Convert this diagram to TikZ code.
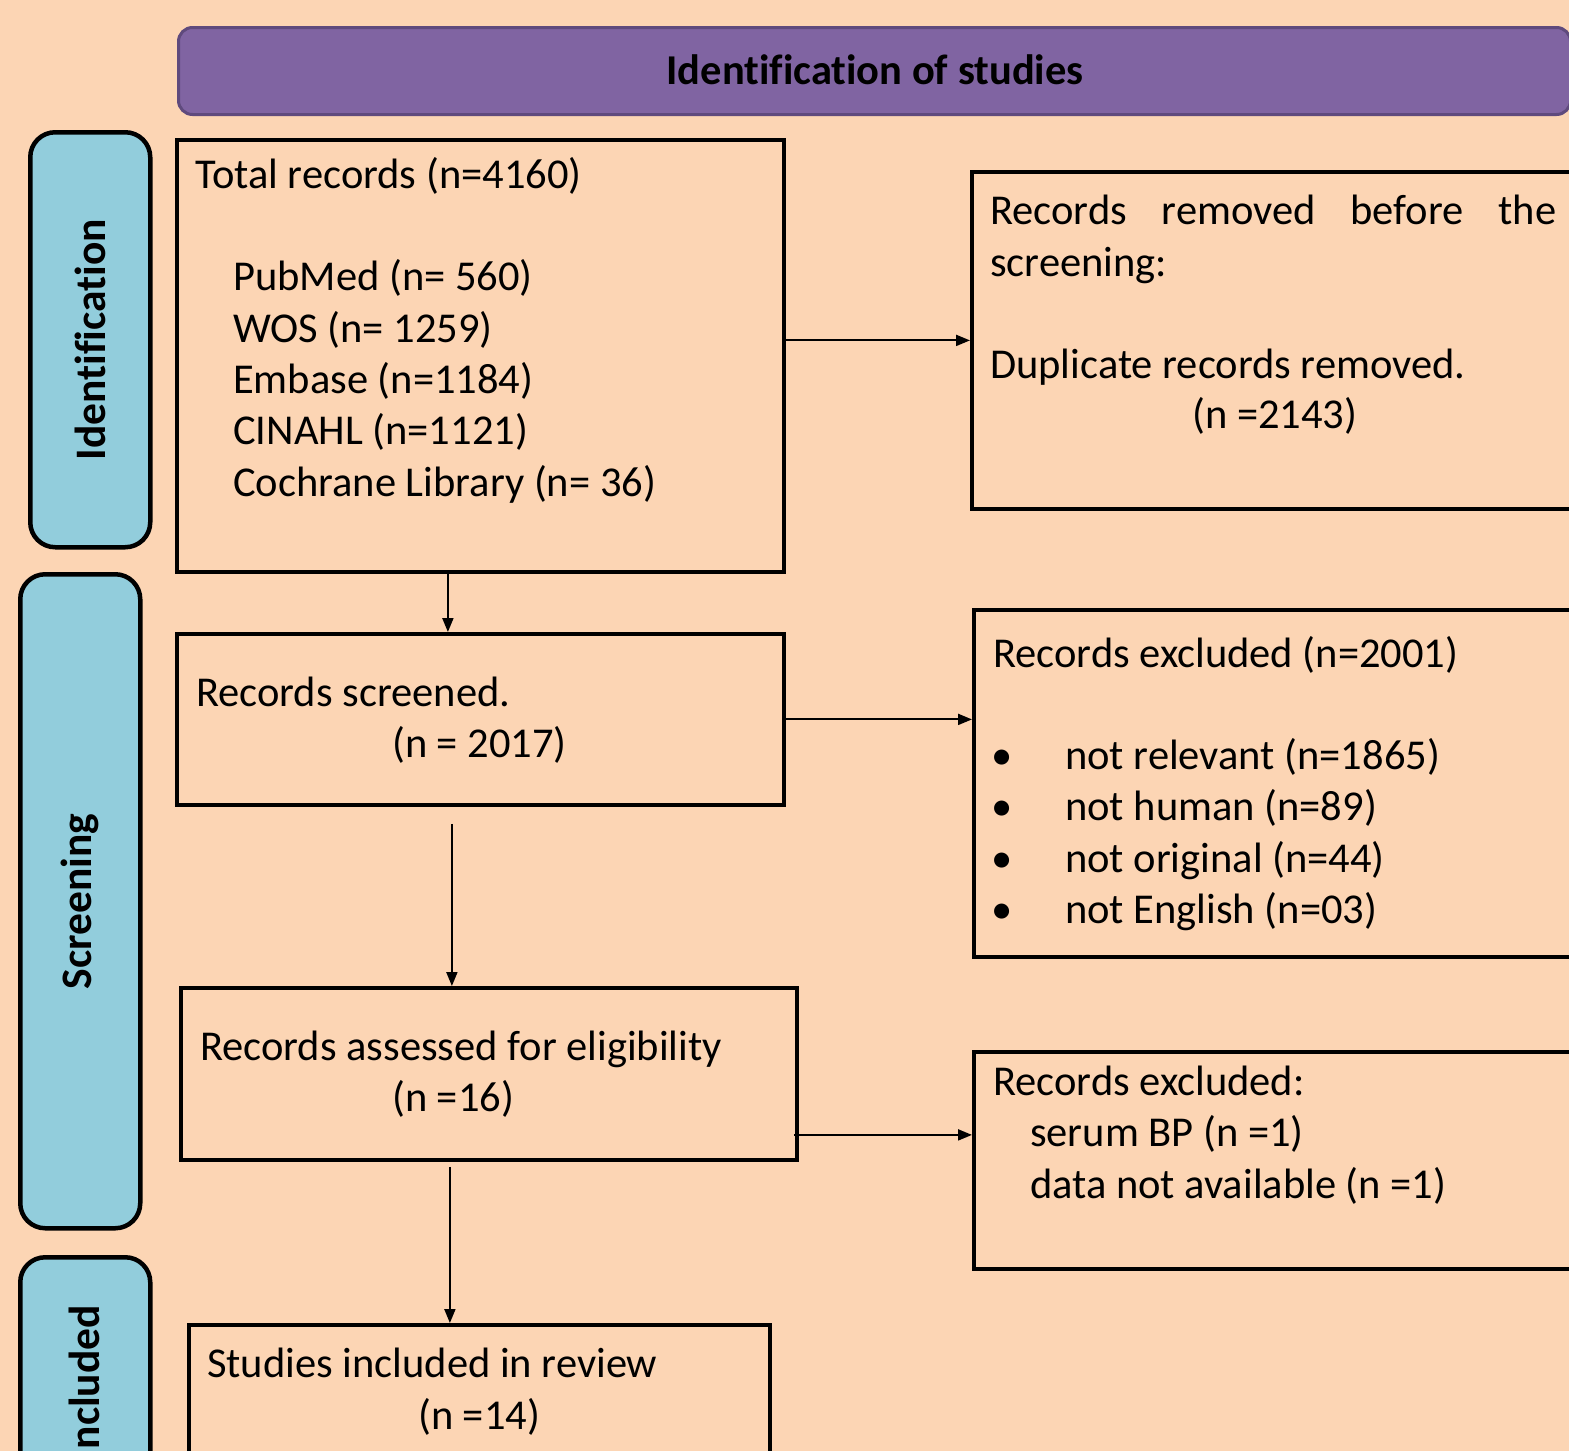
\documentclass[tikz,border=0pt]{standalone}
\usepackage{fontspec}
\setmainfont{Carlito}[Ligatures=NoCommon]
\usetikzlibrary{arrows.meta}
\definecolor{bg}{HTML}{FCD5B4}
\definecolor{tabc}{HTML}{92CDDC}
\definecolor{hdr}{HTML}{8064A2}
\definecolor{hdrline}{HTML}{5F4A7D}
\begin{document}
\begin{tikzpicture}[x=1pt,y=-1pt,
 box/.style={draw=black, line width=3.8pt, fill=bg, rectangle, anchor=north west, inner sep=0pt},
 tabbox/.style={draw=black, line width=4.5pt, fill=tabc, rounded corners=25pt, anchor=north west, inner sep=0pt},
 txt/.style={anchor=base west, inner sep=0pt, font=\fontsize{42.5}{50}\selectfont},
 tablabel/.style={rotate=90, inner sep=0pt, font=\bfseries\fontsize{43.5}{50}\selectfont},
 arr/.style={line width=2pt, -{Triangle[length=14pt,width=11pt]}},
]
\useasboundingbox (0,0) rectangle (1569,1451);
\clip (0,0) rectangle (1569,1451);
\fill[bg] (0,0) rectangle (1569,1451);

% header
\node[draw=hdrline, line width=3pt, fill=hdr, rounded corners=14pt, anchor=north west,
      minimum width=1392pt, minimum height=87pt, inner sep=0pt] (hdr) at (177,26) {};
\node[inner sep=0pt, font=\bfseries\fontsize{42.5}{50}\selectfont] (title) at (875,70) {Identification of studies};

% side tabs
\node[tabbox, minimum width=120pt, minimum height=415pt] (tid) at (28,130) {};
\node[tablabel] (lid) at (tid.center) {Identification};
\node[tabbox, minimum width=120pt, minimum height=654pt] (tsc) at (18,572) {};
\node[tablabel] (lsc) at (tsc.center) {Screening};
\node[tabbox, minimum width=130pt, minimum height=300pt] (tin) at (18,1255) {};
\node[tablabel] (lin) at (84,1383) {Included};

% boxes
\node[box, minimum width=607pt, minimum height=432pt] (b1) at (175,138) {};
\node[box, minimum width=650pt, minimum height=337pt] (b2) at (970,170) {};
\node[box, minimum width=607pt, minimum height=171pt] (b3) at (175,632) {};
\node[box, minimum width=650pt, minimum height=347pt] (b4) at (972,608) {};
\node[box, minimum width=616pt, minimum height=172pt] (b5) at (179,986) {};
\node[box, minimum width=650pt, minimum height=217pt] (b6) at (972,1050) {};
\node[box, minimum width=581pt, minimum height=200pt] (b7) at (187,1323) {};

% texts b1
\node[txt] (t1a) at (195,188) {Total records (n=4160)};
\node[txt] (t1b) at (233,290) {PubMed (n= 560)};
\node[txt] (t1c) at (233,342) {WOS (n= 1259)};
\node[txt] (t1d) at (233,393) {Embase (n=1184)};
\node[txt] (t1e) at (233,444) {CINAHL (n=1121)};
\node[txt] (t1f) at (233,496) {Cochrane Library (n= 36)};
% texts b2
\node[txt] (t2a) at (990,224) {\makebox[566pt][s]{Records\hfill removed\hfill before\hfill the}};
\node[txt] (t2b) at (990,276) {screening:};
\node[txt] (t2c) at (990,378) {Duplicate records removed.};
\node[txt] (t2d) at (1192,428) {(n =2143)};
% texts b3
\node[txt] (t3a) at (196,706) {Records screened.};
\node[txt] (t3b) at (392,757) {(n = 2017)};
% texts b4
\node[txt] (t4a) at (993,667) {Records excluded (n=2001)};
\foreach \yy/\tt [count=\i] in {769/not relevant (n=1865), 820/not human (n=89), 872/not original (n=44), 923/not English (n=03)}{
  \node[txt, anchor=base] (bul\i) at (1002,\yy) {•};
  \node[txt] (t4b\i) at (1065,\yy) {\tt};
}
% texts b5
\node[txt] (t5a) at (200,1060) {Records assessed for eligibility};
\node[txt] (t5b) at (392,1111) {(n =16)};
% texts b6
\node[txt] (t6a) at (993,1095) {Records excluded:};
\node[txt] (t6b) at (1030,1146) {serum BP (n =1)};
\node[txt] (t6c) at (1030,1198) {data not available (n =1)};
% texts b7
\node[txt] (t7a) at (207,1377) {Studies included in review};
\node[txt] (t7b) at (418,1429) {(n =14)};

% arrows
\draw[arr] (b1.east |- b2.west) -- (b2.west);
\draw[arr] ([xshift=-32.5pt]b1.south) -- ([xshift=-32.5pt]b3.north);
\draw[arr] (b3.east) -- (b3.east -| b4.west);
\draw[arr] ([xshift=-28.5pt,yshift=-17pt]b3.south) -- ([xshift=-37pt]b5.north);
\draw[arr] ([xshift=-5pt,yshift=-61pt]b5.east) -- ([yshift=-61pt]b5.east -| b6.west);
\draw[arr] ([xshift=-39pt,yshift=-5pt]b5.south) -- ([xshift=-29.5pt]b7.north);
\end{tikzpicture}
\end{document}
